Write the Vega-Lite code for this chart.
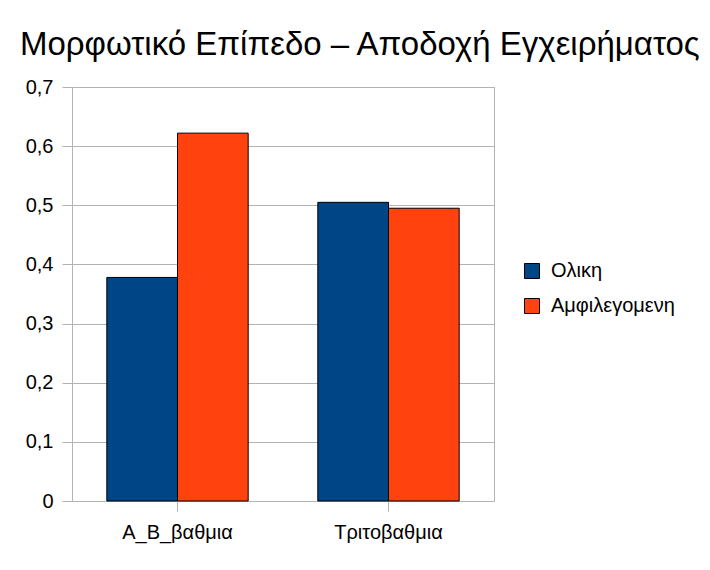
{
  "$schema": "https://vega.github.io/schema/vega-lite/v6.json",
  "autosize": "none",
  "width": 422,
  "height": 414,
  "padding": {"left": 72, "top": 87, "right": 216, "bottom": 69},
  "background": "white",
  "title": {
    "text": "Μορφωτικό Επίπεδο – Αποδοχή Εγχειρήματος",
    "anchor": "start",
    "frame": "group",
    "dx": -52,
    "offset": 15,
    "font": "Liberation Sans",
    "fontSize": 33,
    "fontWeight": "normal",
    "color": "black"
  },
  "data": {
    "values": [
      {"level": "Α_Β_βαθμια", "type": "Ολικη", "value": 0.378},
      {"level": "Α_Β_βαθμια", "type": "Αμφιλεγομενη", "value": 0.622},
      {"level": "Τριτοβαθμια", "type": "Ολικη", "value": 0.505},
      {"level": "Τριτοβαθμια", "type": "Αμφιλεγομενη", "value": 0.495}
    ]
  },
  "mark": {"type": "bar", "stroke": "black", "strokeWidth": 1},
  "encoding": {
    "x": {
      "field": "level",
      "type": "nominal",
      "sort": null,
      "title": null,
      "scale": {"paddingInner": 0.33, "paddingOuter": 0.165},
      "axis": {
        "labelAngle": 0,
        "domain": false,
        "ticks": true,
        "tickColor": "#b3b3b3",
        "tickSize": 10,
        "labelPadding": 11,
        "labelFont": "Liberation Sans",
        "labelFontSize": 20,
        "labelColor": "black"
      }
    },
    "xOffset": {"field": "type", "type": "nominal", "sort": ["Ολικη", "Αμφιλεγομενη"]},
    "y": {
      "field": "value",
      "type": "quantitative",
      "title": null,
      "scale": {"domain": [0, 0.7], "nice": false},
      "axis": {
        "values": [0, 0.1, 0.2, 0.3, 0.4, 0.5, 0.6, 0.7],
        "labelExpr": "replace(format(datum.value, '.1~f'), '.', ',')",
        "domain": false,
        "tickColor": "#b3b3b3",
        "tickSize": 10,
        "gridColor": "#b3b3b3",
        "labelPadding": 9,
        "labelFont": "Liberation Sans",
        "labelFontSize": 20,
        "labelColor": "black"
      }
    },
    "color": {
      "field": "type",
      "type": "nominal",
      "sort": ["Ολικη", "Αμφιλεγομενη"],
      "scale": {"domain": ["Ολικη", "Αμφιλεγομενη"], "range": ["#004586", "#ff420e"]},
      "legend": {
        "title": null,
        "orient": "none",
        "legendX": 450,
        "legendY": 174,
        "symbolType": "square",
        "symbolSize": 225,
        "symbolStrokeColor": "black",
        "symbolStrokeWidth": 1,
        "symbolOpacity": 1,
        "labelFont": "Liberation Sans",
        "labelFontSize": 20,
        "labelColor": "black",
        "labelOffset": 9,
        "rowPadding": 15
      }
    }
  },
  "config": {
    "view": {"stroke": "#b3b3b3", "strokeWidth": 1}
  }
}
